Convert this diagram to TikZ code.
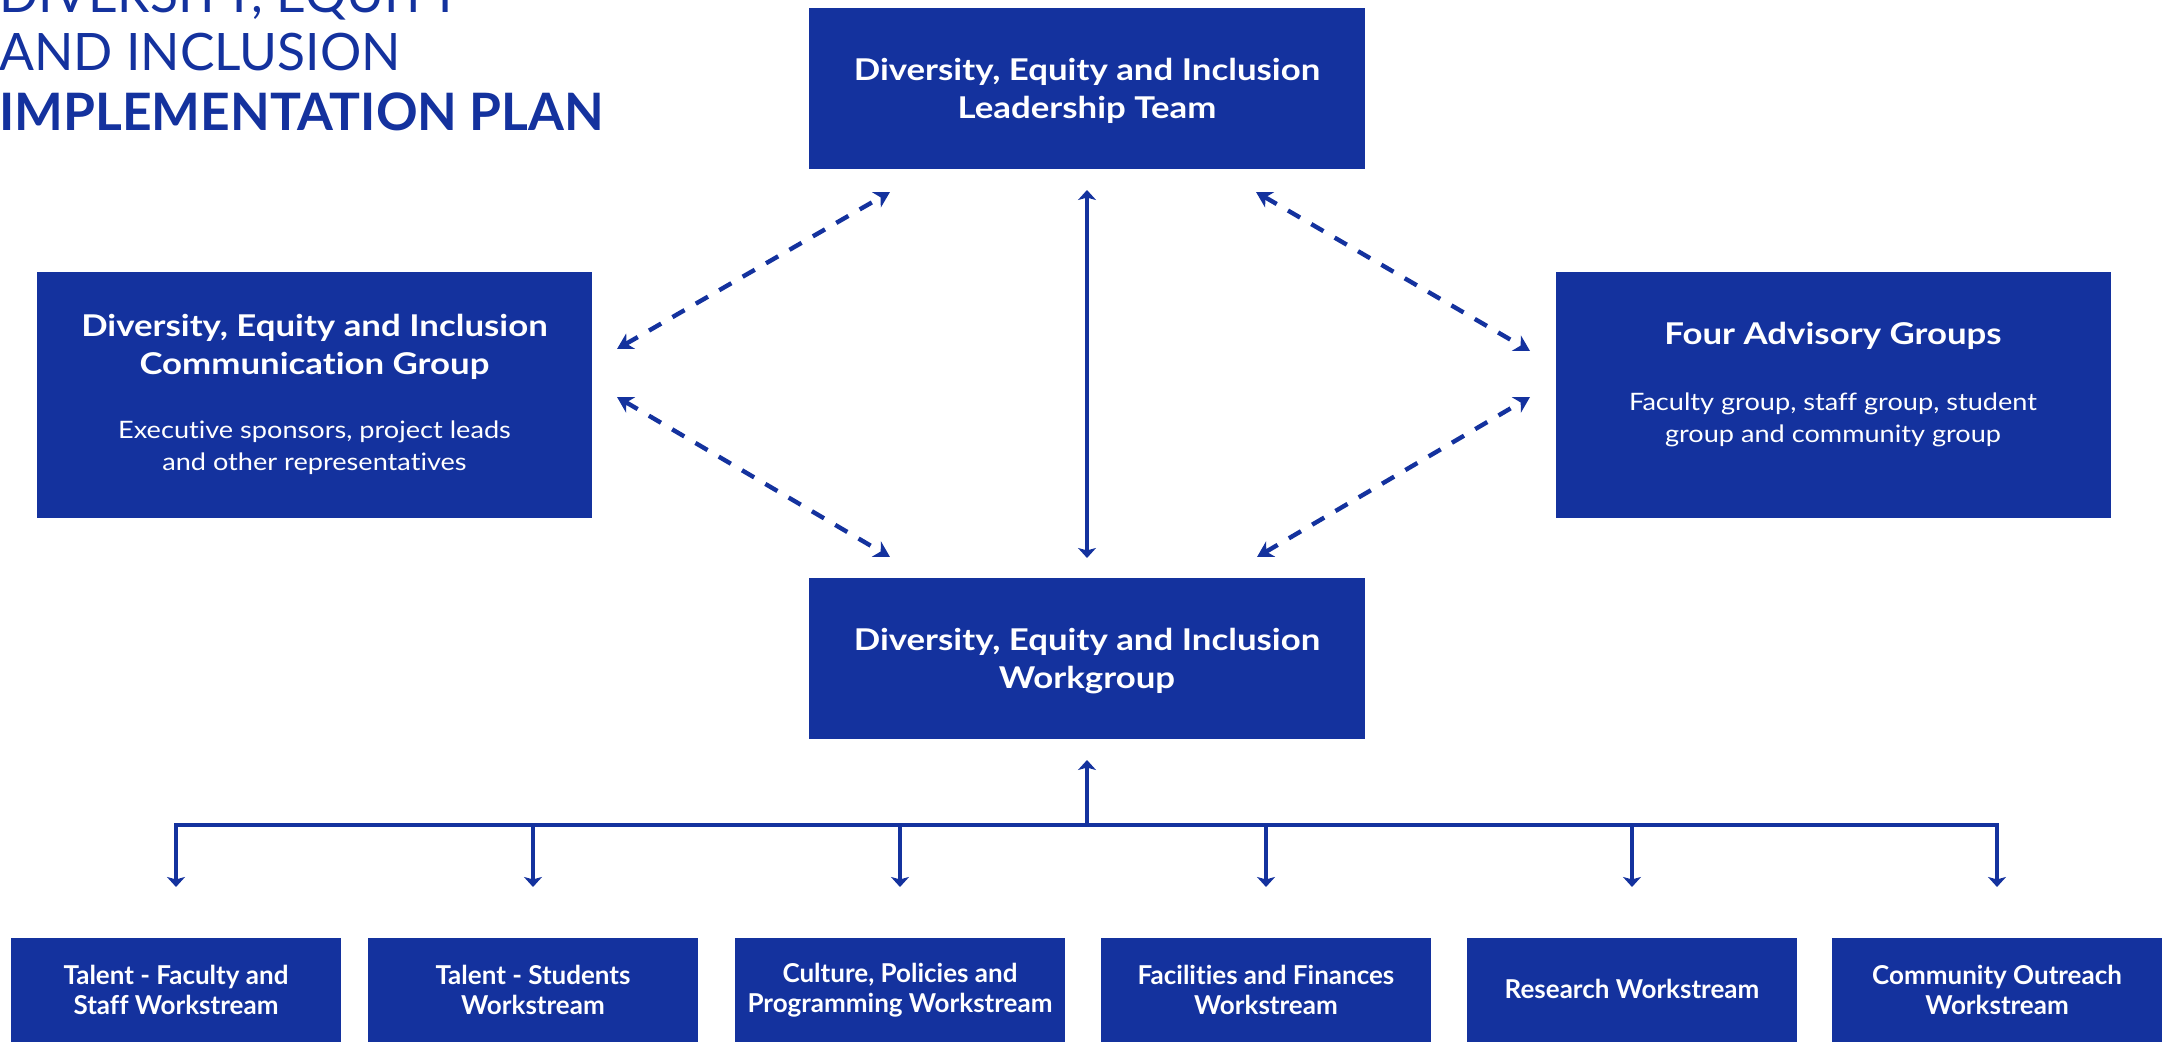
\documentclass[tikz,border=0pt]{standalone}
\usepackage{fontspec}
\setmainfont{Lato}[Ligatures=NoCommon]
\newfontfamily\headfam{Lato}[FakeStretch=1.16,Ligatures=NoCommon]
\newfontfamily\subfam{Lato}[FakeStretch=1.13,Ligatures=NoCommon]
\usetikzlibrary{arrows.meta}
\definecolor{dblue}{RGB}{20,50,158}
\begin{document}
\begin{tikzpicture}[x=0.5pt,y=-0.5pt,
  box/.style={rectangle,fill=dblue,draw=none,inner sep=0pt,outer sep=0pt},
  bigbox/.style={box,minimum width=278pt,minimum height=80.5pt},
  sidebox/.style={box,minimum width=277.5pt,minimum height=123pt},
  wsbox/.style={box,minimum width=165pt,minimum height=52pt,text=white,align=center,font=\fontsize{13}{15}\selectfont\bfseries},
  headtxt/.style={text=white,align=center,inner sep=0pt,font=\headfam\fontsize{15}{19}\selectfont\bfseries},
  subtxt/.style={text=white,align=center,inner sep=0pt,font=\subfam\fontsize{12}{16}\selectfont},
  titletxt/.style={text=dblue,anchor=base west,inner sep=0pt,font=\fontsize{25.8}{30}\selectfont},
  conn/.style={draw=dblue,line width=1.75pt},
  stip/.tip={Stealth[length=5pt,width=9pt,inset=1.2pt]},
  dtip/.tip={Stealth[length=7.8pt,width=8.8pt,inset=2.4pt]},
  dconn/.style={draw=dblue,line width=2.2pt,dash pattern=on 7pt off 6.5pt,dtip-dtip}
]
\useasboundingbox (0,0) rectangle (2162,1042);
\clip (0,0) rectangle (2162,1042);

% title
\node[titletxt] (ti1) at (-1,13) {DIVERSITY, EQUITY};
\node[titletxt] (ti2) at (-1,71) {AND INCLUSION};
\node[titletxt,font=\fontsize{25.8}{30}\selectfont\bfseries] (ti3) at (-1,131) {IMPLEMENTATION PLAN};

% main boxes
\node[bigbox] (lead) at (1087,88.5) {};
\node[bigbox] (work) at (1087,658.5) {};
\node[sidebox] (comm) at (314.5,395) {};
\node[sidebox] (adv) at (1833,395) {};

\node[headtxt] (leadt) at (1087,91) {Diversity, Equity and Inclusion\\Leadership Team};
\node[headtxt] (workt) at (1087,661) {Diversity, Equity and Inclusion\\Workgroup};
\node[headtxt] (commh) at (314.5,347) {Diversity, Equity and Inclusion\\Communication Group};
\node[subtxt] (comms) at (314.5,447.7) {Executive sponsors, project leads\\and other representatives};
\node[headtxt] (advh) at (1833,335.5) {Four Advisory Groups};
\node[subtxt] (advs) at (1833,419.7) {Faculty group, staff group, student\\group and community group};

% workstream boxes
\node[wsbox] (b1) at (176,990) {Talent - Faculty and\\Staff Workstream};
\node[wsbox] (b2) at (533,990) {Talent - Students\\Workstream};
\node[wsbox] (b3) at (900,990) {Culture, Policies and\\Programming Workstream};
\node[wsbox] (b4) at (1266,990) {Facilities and Finances\\Workstream};
\node[wsbox] (b5) at (1632,990) {\raisebox{1.4pt}{Research Workstream}};
\node[wsbox] (b6) at (1997,990) {Community Outreach\\Workstream};

% dashed connectors
\coordinate (cu) at (617,349);
\coordinate (cd) at (617,397);
\coordinate (au) at (1530,351);
\coordinate (ad) at (1530,397);
\coordinate (lu) at (890,192);
\coordinate (ru) at (1256,192);
\coordinate (ld) at (890,557);
\coordinate (rd) at (1257,557);
\draw[dconn] (cu) -- (lu);
\draw[dconn] (ru) -- (au);
\draw[dconn] (cd) -- (ld);
\draw[dconn] (rd) -- (ad);

% central arrow
\draw[conn,stip-stip,shorten <=10.5pt,shorten >=10pt] (lead.south) -- (work.north);

% tree
\coordinate (bus) at (1087,825);
\draw[conn,-stip,shorten >=10.5pt] (bus) -- (work.south);
\draw[conn,-stip,shorten >=25.5pt] (bus) -| (b1);
\draw[conn,-stip,shorten >=25.5pt] (bus) -| (b6);
\foreach \b in {b2,b3,b4,b5} \draw[conn,-stip,shorten >=25.5pt] (bus -| \b) -- (\b);
\end{tikzpicture}
\end{document}
